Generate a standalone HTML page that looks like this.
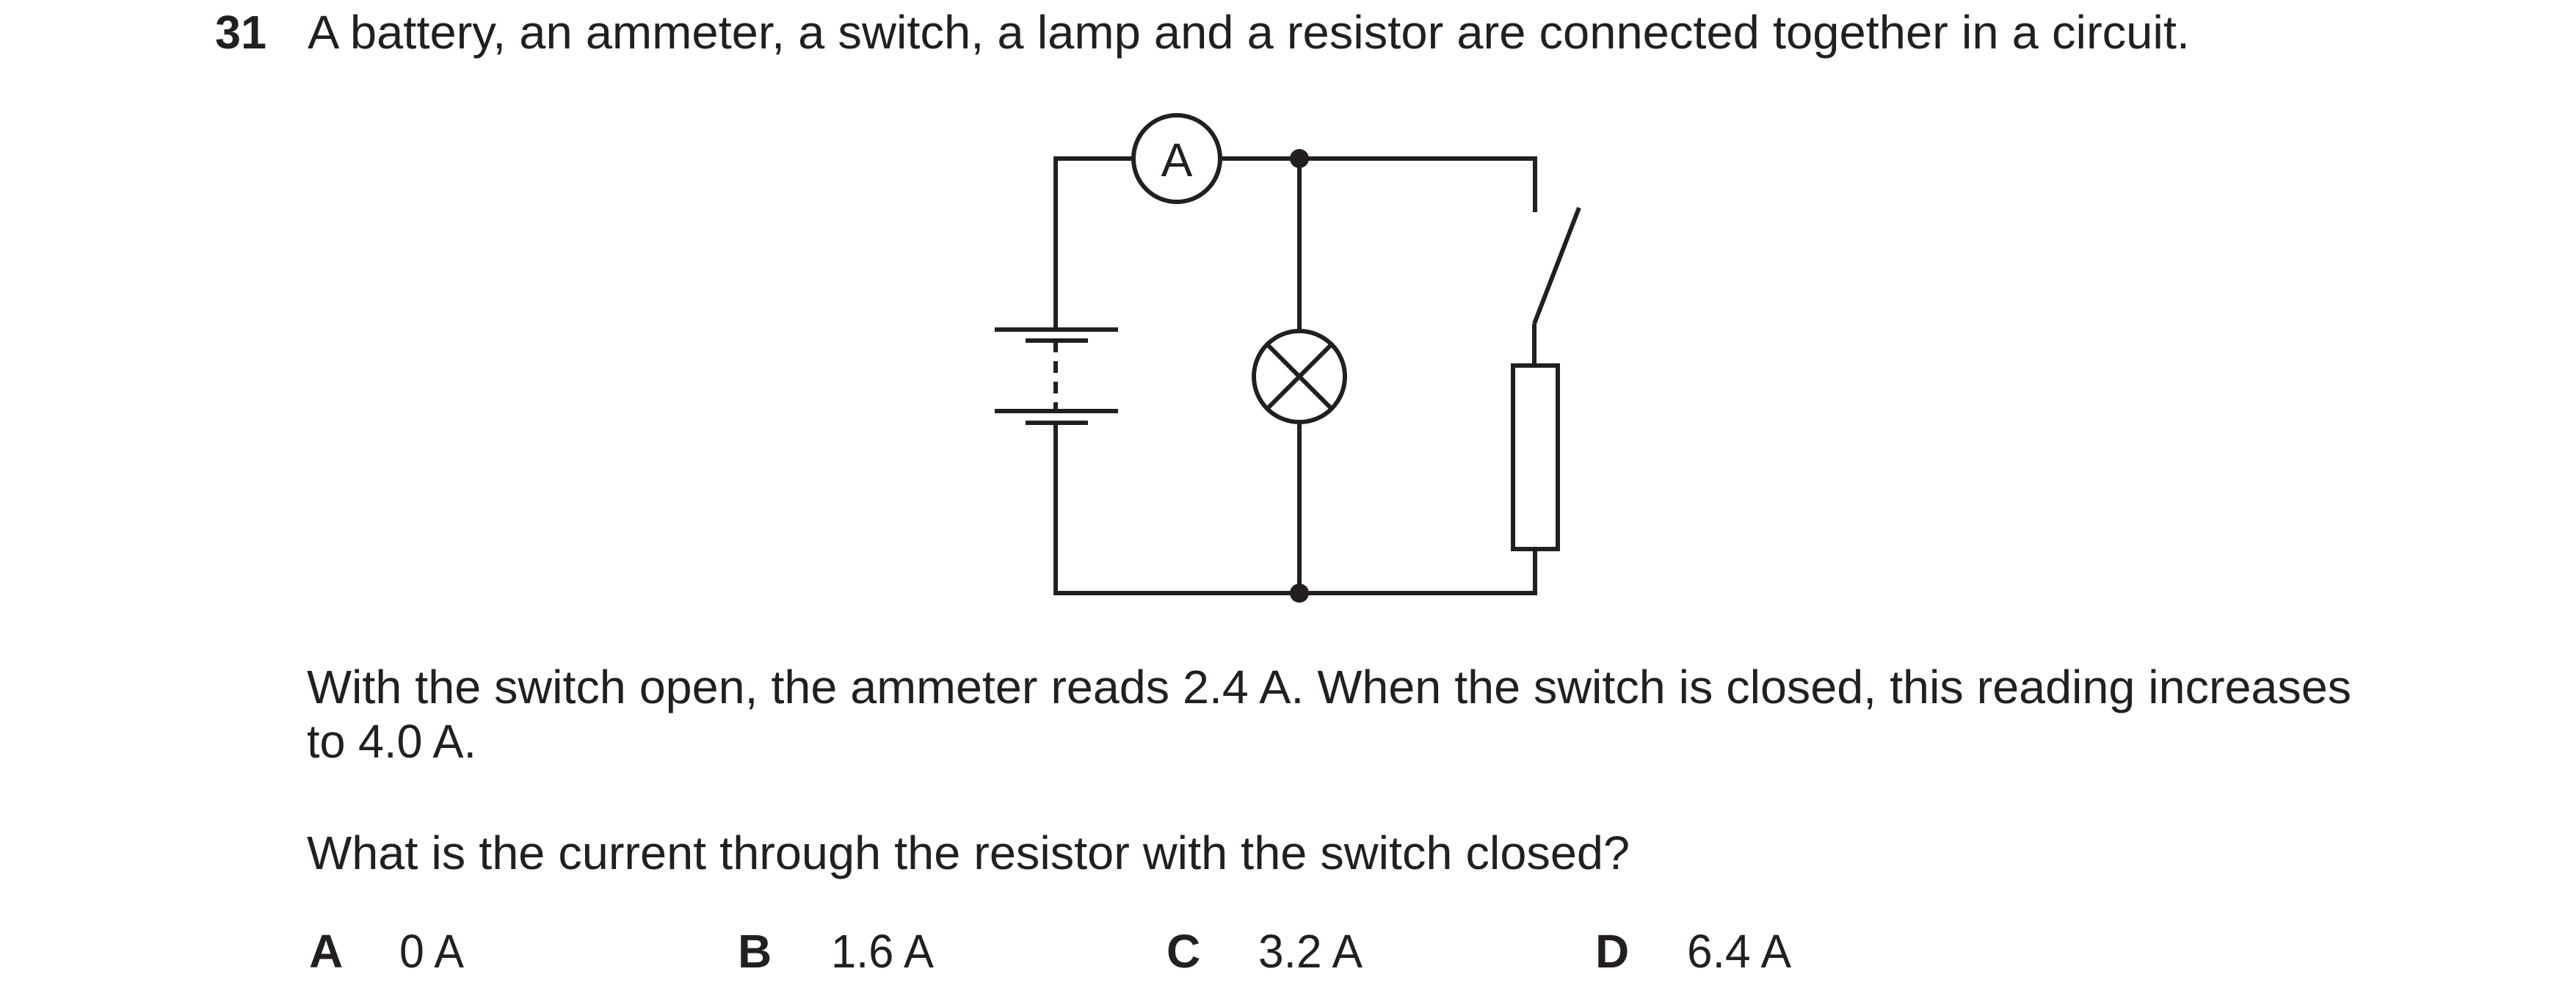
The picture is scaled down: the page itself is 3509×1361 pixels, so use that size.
<!DOCTYPE html>
<html><head><meta charset="utf-8"><style>
html,body{margin:0;padding:0;background:#fff;}
svg{display:block;}
text{font-family:"Liberation Sans",Arial,sans-serif;fill:#231f20;font-size:64px;}
</style></head><body>
<svg width="3509" height="1361" viewBox="0 0 3509 1361" xmlns="http://www.w3.org/2000/svg">
<text x="293" y="66" font-weight="bold" textLength="70" lengthAdjust="spacingAndGlyphs">31</text>
<text x="419" y="66" textLength="2564" lengthAdjust="spacingAndGlyphs">A battery, an ammeter, a switch, a lamp and a resistor are connected together in a circuit.</text>

<g stroke="#231f20" stroke-width="6" fill="none">
  <polyline points="1438,449 1438,216 1544,216"/>
  <line x1="1662" y1="216" x2="2091" y2="216"/>
  <line x1="2091" y1="213" x2="2091" y2="289"/>
  <line x1="2090" y1="441" x2="2151" y2="283"/>
  <line x1="2090" y1="441" x2="2090" y2="498"/>
  <rect x="2061" y="498" width="61" height="250"/>
  <polyline points="2091,748 2091,808 1438,808 1438,576"/>
  <circle cx="1603" cy="216" r="59"/>
  <line x1="1355" y1="449" x2="1523" y2="449"/>
  <line x1="1397" y1="464" x2="1482" y2="464"/>
  <line x1="1355" y1="560" x2="1523" y2="560"/>
  <line x1="1397" y1="576" x2="1482" y2="576"/>
  <line x1="1438" y1="464" x2="1438" y2="560" stroke-dasharray="16,12"/>
  <line x1="1770" y1="216" x2="1770" y2="451"/>
  <line x1="1770" y1="575" x2="1770" y2="808"/>
  <circle cx="1770" cy="513" r="62"/>
  <line x1="1726" y1="469" x2="1814" y2="557"/>
  <line x1="1814" y1="469" x2="1726" y2="557"/>
</g>
<circle cx="1770" cy="216" r="13" fill="#231f20"/>
<circle cx="1770" cy="808" r="13" fill="#231f20"/>
<text x="1603" y="240" text-anchor="middle" font-size="62">A</text>

<text x="418" y="958" textLength="2785" lengthAdjust="spacingAndGlyphs">With the switch open, the ammeter reads 2.4 A. When the switch is closed, this reading increases</text>
<text x="418" y="1032" textLength="231" lengthAdjust="spacingAndGlyphs">to 4.0 A.</text>
<text x="418" y="1184" textLength="1802" lengthAdjust="spacingAndGlyphs">What is the current through the resistor with the switch closed?</text>

<text x="421" y="1318" font-weight="bold">A</text>
<text x="544" y="1318" textLength="88" lengthAdjust="spacingAndGlyphs">0 A</text>
<text x="1005" y="1318" font-weight="bold">B</text>
<text x="1132" y="1318" textLength="140" lengthAdjust="spacingAndGlyphs">1.6 A</text>
<text x="1589" y="1318" font-weight="bold">C</text>
<text x="1714" y="1318" textLength="142" lengthAdjust="spacingAndGlyphs">3.2 A</text>
<text x="2173" y="1318" font-weight="bold">D</text>
<text x="2298" y="1318" textLength="142" lengthAdjust="spacingAndGlyphs">6.4 A</text>
</svg>
</body></html>
